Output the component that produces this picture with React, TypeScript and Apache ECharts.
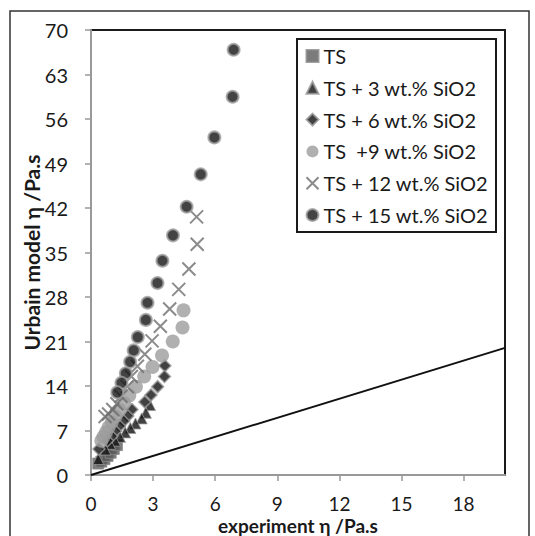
import React, { useEffect, useRef } from "react";
import * as echarts from "echarts";

const seriesNames = [
  "TS",
  "TS + 3 wt.% SiO2",
  "TS + 6 wt.% SiO2",
  "TS  +9 wt.% SiO2",
  "TS + 12 wt.% SiO2",
  "TS + 15 wt.% SiO2",
];

const tsData = [
  [0.35, 1.8], [0.5, 2.1], [0.65, 2.5], [0.8, 3.0], [0.95, 3.5], [1.1, 4.1], [1.25, 4.7],
];
const ts3Data = [
  [2.85, 11.0], [2.65, 9.8], [2.45, 8.9], [2.15, 8.1], [1.9, 7.4], [1.65, 6.7],
  [1.4, 6.0], [1.16, 5.4], [0.92, 4.9], [0.7, 4.0], [0.35, 2.5],
];
const ts6Data = [
  [3.57, 17.2], [3.55, 15.5], [3.22, 13.9], [2.9, 12.6], [2.6, 11.5], [1.98, 10.3],
  [1.78, 9.3], [1.58, 8.5], [1.38, 7.7], [1.18, 6.9], [1.0, 6.1], [0.8, 5.4], [0.38, 4.1],
];
const ts9Data = [
  [4.47, 25.9], [4.42, 23.2], [3.95, 21.0], [3.43, 18.8], [2.97, 17.0], [2.57, 15.5],
  [2.17, 13.9], [1.85, 12.5], [1.6, 11.3], [1.38, 10.2], [1.18, 9.2], [1.0, 8.3],
  [0.85, 7.5], [0.72, 6.7], [0.6, 6.0], [0.5, 5.4],
];
const ts12Data = [
  [5.1, 40.6], [5.13, 36.3], [4.73, 32.4], [4.24, 29.2], [3.8, 26.1], [3.35, 23.4],
  [2.95, 21.1], [2.6, 19.0], [2.24, 17.1], [1.95, 15.5], [1.75, 13.9], [1.45, 12.4],
  [1.25, 11.2], [1.05, 10.3], [0.85, 9.6], [0.68, 9.2],
];
const ts15Data = [
  [6.89, 66.9], [6.84, 59.5], [5.96, 53.1], [5.3, 47.3], [4.62, 42.2], [3.96, 37.7],
  [3.45, 33.7], [3.21, 30.2], [2.73, 27.1], [2.65, 24.4], [2.26, 21.7], [2.06, 19.6],
  [1.89, 17.8], [1.68, 16.0], [1.47, 14.5], [1.27, 13.0],
];
const refLine = [
  [0, 0], [20, 20],
];
const xTicks = [0, 3, 6, 9, 12, 15, 18];

const FONT = "Lato";

export default function App() {
  const ref = useRef<HTMLDivElement>(null);
  useEffect(() => {
    if (!ref.current) return;
    const chart = echarts.init(ref.current, null, { renderer: "svg" });
    const cross = "path://M0,0L10,10M10,0L0,10";
    chart.setOption({
      animation: false,
      backgroundColor: "#fff",
      textStyle: { fontFamily: FONT },
      grid: {
        left: 91,
        top: 30,
        right: 30,
        bottom: 61,
        outerBoundsMode: "none",
        containLabel: false,
        show: true,
        borderColor: "#1a1a1a",
        borderWidth: 2,
        backgroundColor: "transparent",
      },
      graphic: [
        {
          type: "rect",
          shape: { x: 10, y: 11, width: 519, height: 540 },
          style: { fill: "none", stroke: "#333", lineWidth: 1.5 },
          z: 0,
        },
      ],
      legend: {
        orient: "vertical",
        left: 297,
        top: 39,
        padding: [7, 8, 7, 7],
        itemGap: 11.8,
        itemWidth: 12,
        itemHeight: 12,
        itemTextGap: 6,
        borderColor: "#1a1a1a",
        borderWidth: 2,
        backgroundColor: "#fff",
        textStyle: { fontFamily: FONT, fontSize: 20, color: "#1a1a1a", lineHeight: 20 },
        data: seriesNames,
      },
      xAxis: {
        type: "value",
        min: 0,
        max: 20,
        interval: 3,
        name: "experiment η /Pa.s",
        nameLocation: "middle",
        nameGap: 42,
        nameMoveOverlap: false,
        nameTextStyle: { fontFamily: FONT, fontSize: 19, fontWeight: "bold", color: "#1a1a1a", lineHeight: 17 },
        splitLine: { show: false },
        axisLine: { lineStyle: { color: "#999", width: 2 } },
        axisTick: { length: 6, lineStyle: { color: "#999", width: 1.5 }, customValues: xTicks },
        axisLabel: { margin: 21, fontSize: 19, lineHeight: 14, color: "#1a1a1a", fontFamily: FONT, customValues: xTicks },
      },
      yAxis: {
        type: "value",
        min: 0,
        max: 70,
        interval: 7,
        name: "Urbain model η /Pa.s",
        nameLocation: "middle",
        nameGap: 49,
        nameMoveOverlap: false,
        nameRotate: 90,
        nameTextStyle: { fontFamily: FONT, fontSize: 21, fontWeight: "bold", color: "#1a1a1a" },
        splitLine: { show: false },
        axisLine: { lineStyle: { color: "#999", width: 2 } },
        axisTick: { length: 6, lineStyle: { color: "#999", width: 1.5 } },
        axisLabel: { margin: 23, fontSize: 20, color: "#1a1a1a", fontFamily: FONT },
      },
      series: [
        {
          name: "ref",
          type: "line",
          data: refLine,
          symbol: "none",
          lineStyle: { color: "#111", width: 2 },
          z: 1,
        },
        {
          name: seriesNames[0],
          type: "scatter",
          data: tsData,
          symbol: "rect",
          symbolSize: 11,
          itemStyle: { color: "#5a5a5a", borderColor: "#8a8a8a", borderWidth: 1 },
        },
        {
          name: seriesNames[1],
          type: "scatter",
          data: ts3Data,
          symbol: "triangle",
          symbolSize: 11,
          itemStyle: { color: "#111", borderColor: "#999", borderWidth: 1 },
        },
        {
          name: seriesNames[2],
          type: "scatter",
          data: ts6Data,
          symbol: "diamond",
          symbolSize: 12,
          itemStyle: { color: "#111", borderColor: "#999", borderWidth: 1.5 },
        },
        {
          name: seriesNames[3],
          type: "scatter",
          data: ts9Data,
          symbol: "circle",
          symbolSize: 14,
          itemStyle: { color: "#9c9c9c" },
        },
        {
          name: seriesNames[4],
          type: "scatter",
          data: ts12Data,
          symbol: cross,
          symbolSize: 13,
          itemStyle: { color: "none", borderColor: "#6e6e6e", borderWidth: 2 },
        },
        {
          name: seriesNames[5],
          type: "scatter",
          data: ts15Data,
          symbol: "circle",
          symbolSize: 12,
          itemStyle: { color: "#141414", borderColor: "#a0a0a0", borderWidth: 2 },
        },
      ],
    });
    return () => chart.dispose();
  }, []);
  return (
    <div
      ref={ref}
      style={{ position: "absolute", left: 0, top: 0, width: 535, height: 536 }}
    />
  );
}
